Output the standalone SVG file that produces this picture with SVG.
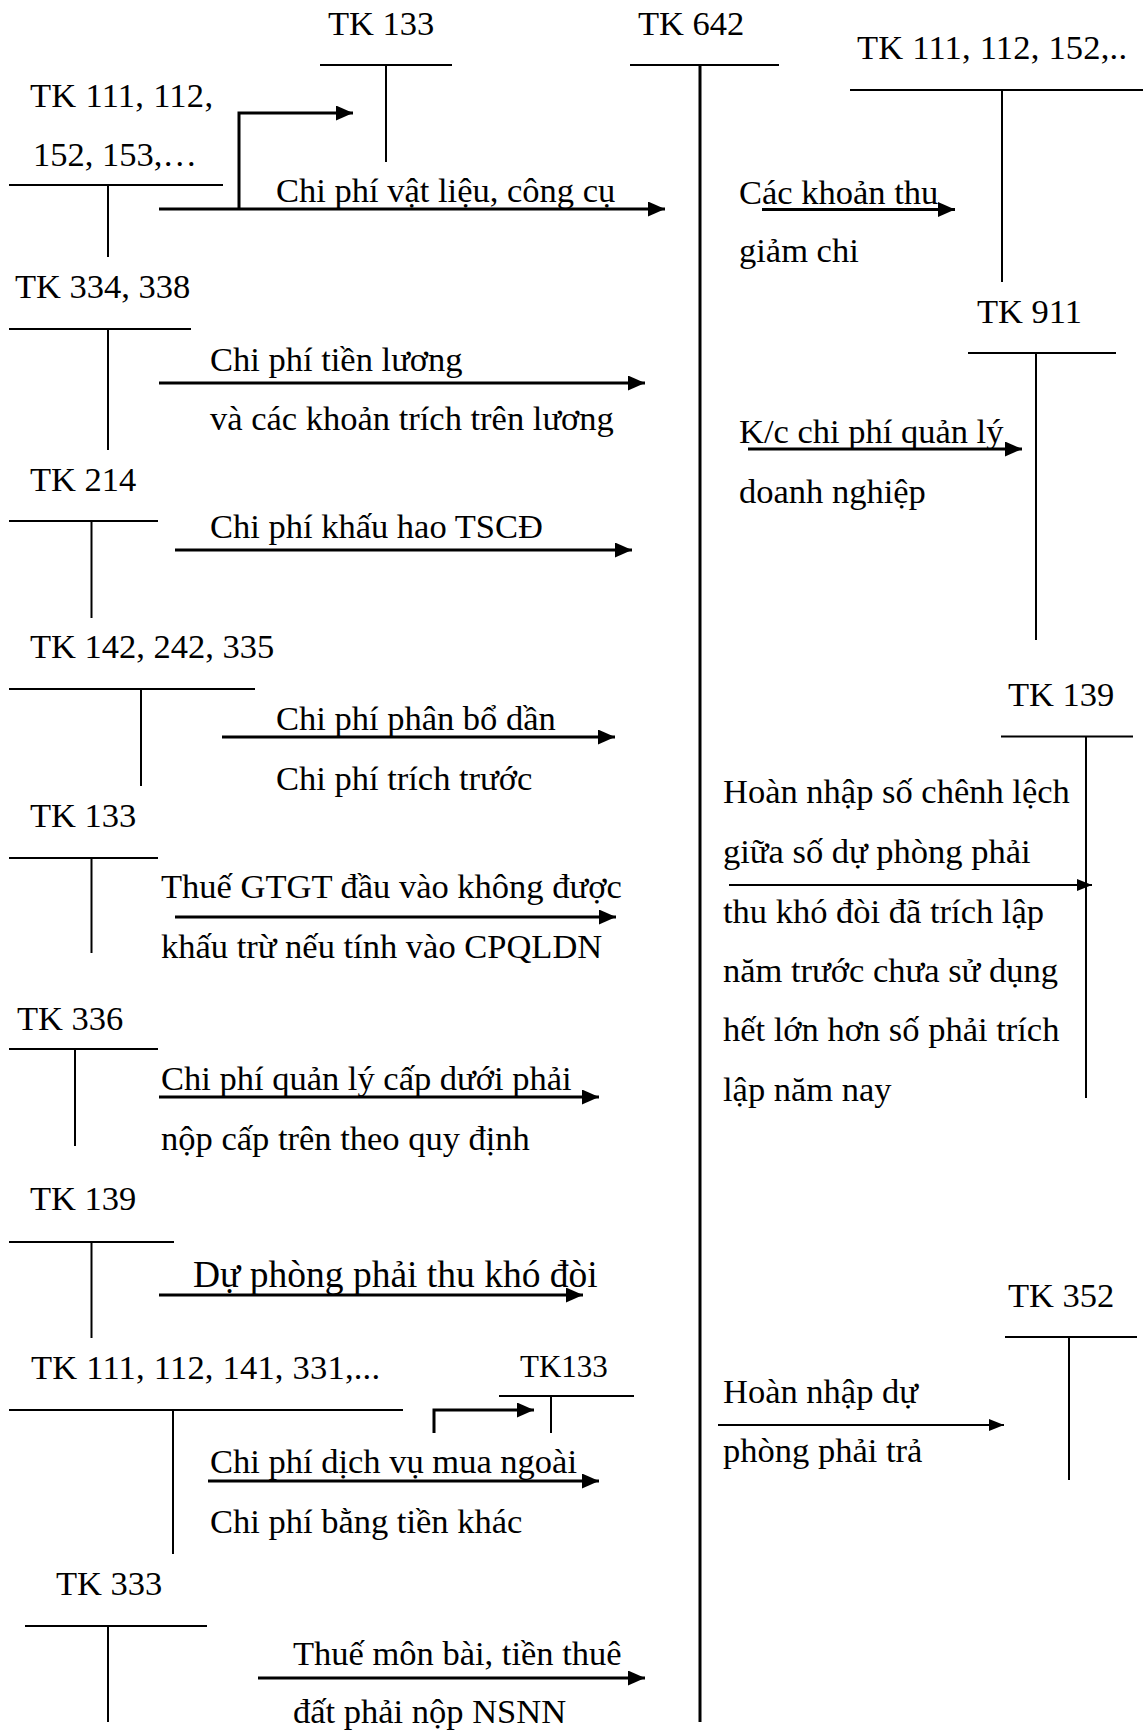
<svg xmlns="http://www.w3.org/2000/svg" width="1144" height="1731" viewBox="0 0 1144 1731">
  <style>
    text { font-family: "Liberation Serif", "Times New Roman", serif; font-size: 34.5px; fill: #000; }
    .small { font-size: 31px; }
    .big { font-size: 37.5px; }
    .t { stroke: #000; stroke-width: 2; fill: none; }
    .main { stroke: #000; stroke-width: 3; fill: none; }
    .arr { stroke: #000; stroke-width: 3; fill: none; marker-end: url(#ah); }
    .arr2 { stroke: #000; stroke-width: 2; fill: none; marker-end: url(#ah2); }
  </style>
  <defs>
    <marker id="ah" markerUnits="userSpaceOnUse" markerWidth="17" markerHeight="15" refX="17" refY="7.5" orient="auto">
      <path d="M0,0 L17,7.5 L0,15 Z" fill="#000"/>
    </marker>
    <marker id="ah2" markerUnits="userSpaceOnUse" markerWidth="15" markerHeight="12" refX="15" refY="6" orient="auto">
      <path d="M0,0 L15,6 L0,12 Z" fill="#000"/>
    </marker>
  </defs>
  <rect width="1144" height="1731" fill="#fff"/>

  <!-- T-accounts -->
  <g id="tk133-top">
    <text x="328" y="35">TK 133</text>
    <line class="t" x1="320" y1="65" x2="452" y2="65"/>
    <line class="t" x1="386" y1="65" x2="386" y2="162"/>
  </g>
  <g id="tk642">
    <text x="638" y="35">TK 642</text>
    <line class="t" x1="630" y1="65" x2="779" y2="65"/>
    <line class="main" x1="700" y1="65" x2="700" y2="1722"/>
  </g>
  <g id="tk111-152">
    <text x="30" y="107" textLength="183" lengthAdjust="spacing">TK 111, 112,</text>
    <text x="33" y="166">152, 153,…</text>
    <line class="t" x1="9" y1="185" x2="223" y2="185"/>
    <line class="t" x1="108" y1="185" x2="108" y2="257"/>
  </g>
  <g id="tk111-right">
    <text x="857" y="59" textLength="270" lengthAdjust="spacing">TK 111, 112, 152,..</text>
    <line class="t" x1="850" y1="90" x2="1143" y2="90"/>
    <line class="t" x1="1002" y1="90" x2="1002" y2="282"/>
  </g>
  <g id="tk911">
    <text x="977" y="323">TK 911</text>
    <line class="t" x1="968" y1="353" x2="1116" y2="353"/>
    <line class="t" x1="1036" y1="353" x2="1036" y2="640"/>
  </g>
  <g id="tk334">
    <text x="15" y="298">TK 334, 338</text>
    <line class="t" x1="9" y1="329" x2="191" y2="329"/>
    <line class="t" x1="108" y1="329" x2="108" y2="450"/>
  </g>
  <g id="tk214">
    <text x="30" y="491">TK 214</text>
    <line class="t" x1="9" y1="521" x2="158" y2="521"/>
    <line class="t" x1="91.5" y1="521" x2="91.5" y2="618"/>
  </g>
  <g id="tk142">
    <text x="30" y="658">TK 142, 242, 335</text>
    <line class="t" x1="9" y1="689" x2="255" y2="689"/>
    <line class="t" x1="141" y1="689" x2="141" y2="786"/>
  </g>
  <g id="tk133-left">
    <text x="30" y="827">TK 133</text>
    <line class="t" x1="9" y1="858" x2="158" y2="858"/>
    <line class="t" x1="91.5" y1="858" x2="91.5" y2="953"/>
  </g>
  <g id="tk336">
    <text x="17" y="1030">TK 336</text>
    <line class="t" x1="9" y1="1049" x2="158" y2="1049"/>
    <line class="t" x1="75" y1="1049" x2="75" y2="1146"/>
  </g>
  <g id="tk139-left">
    <text x="30" y="1210">TK 139</text>
    <line class="t" x1="9" y1="1242" x2="174" y2="1242"/>
    <line class="t" x1="91.5" y1="1242" x2="91.5" y2="1338"/>
  </g>
  <g id="tk111-331">
    <text x="31" y="1379" textLength="349" lengthAdjust="spacing">TK 111, 112, 141, 331,...</text>
    <line class="t" x1="9" y1="1410" x2="403" y2="1410"/>
    <line class="t" x1="173" y1="1410" x2="173" y2="1554"/>
  </g>
  <g id="tk133-small">
    <text class="small" x="520" y="1377">TK133</text>
    <line class="t" x1="499" y1="1396" x2="634" y2="1396"/>
    <line class="t" x1="551" y1="1396" x2="551" y2="1433"/>
  </g>
  <g id="tk333">
    <text x="56" y="1595">TK 333</text>
    <line class="t" x1="25" y1="1626" x2="207" y2="1626"/>
    <line class="t" x1="108" y1="1626" x2="108" y2="1722"/>
  </g>
  <g id="tk139-right">
    <text x="1008" y="706">TK 139</text>
    <line class="t" x1="1001" y1="736.5" x2="1133" y2="736.5"/>
    <line class="t" x1="1086" y1="736.5" x2="1086" y2="1098"/>
  </g>
  <g id="tk352">
    <text x="1008" y="1307">TK 352</text>
    <line class="t" x1="1005" y1="1337" x2="1137" y2="1337"/>
    <line class="t" x1="1069" y1="1337" x2="1069" y2="1480"/>
  </g>

  <!-- entry labels -->
  <g id="labels">
    <text x="276" y="202">Chi phí vật liệu, công cụ</text>
    <text x="210" y="371">Chi phí tiền lương</text>
    <text x="210" y="430">và các khoản trích trên lương</text>
    <text x="210" y="538">Chi phí khấu hao TSCĐ</text>
    <text x="276" y="730">Chi phí phân bổ dần</text>
    <text x="276" y="790">Chi phí trích trước</text>
    <text x="161" y="898">Thuế GTGT đầu vào không được</text>
    <text x="161" y="958">khấu trừ nếu tính vào CPQLDN</text>
    <text x="161" y="1090">Chi phí quản lý cấp dưới phải</text>
    <text x="161" y="1150">nộp cấp trên theo quy định</text>
    <text class="big" x="193" y="1287">Dự phòng phải thu khó đòi</text>
    <text x="210" y="1473">Chi phí dịch vụ mua ngoài</text>
    <text x="210" y="1533">Chi phí bằng tiền khác</text>
    <text x="293" y="1665">Thuế môn bài, tiền thuê</text>
    <text x="293" y="1723">đất phải nộp NSNN</text>
    <text x="739" y="204">Các khoản thu</text>
    <text x="739" y="262">giảm chi</text>
    <text x="739" y="443">K/c chi phí quản lý</text>
    <text x="739" y="503">doanh nghiệp</text>
    <text x="723" y="803">Hoàn nhập số chênh lệch</text>
    <text x="723" y="863">giữa số dự phòng phải</text>
    <text x="723" y="923">thu khó đòi đã trích lập</text>
    <text x="723" y="982">năm trước chưa sử dụng</text>
    <text x="723" y="1041">hết lớn hơn số phải trích</text>
    <text x="723" y="1101">lập năm nay</text>
    <text x="723" y="1403">Hoàn nhập dự</text>
    <text x="723" y="1462">phòng phải trả</text>
  </g>

  <!-- posting arrows -->
  <g id="connectors">
    <line class="arr" x1="159" y1="209" x2="665" y2="209"/>
    <polyline class="arr" points="239,209 239,113 353,113"/>
    <line class="arr" x1="159" y1="383" x2="645" y2="383"/>
    <line class="arr" x1="175" y1="550" x2="632" y2="550"/>
    <line class="arr" x1="222" y1="737" x2="615" y2="737"/>
    <line class="arr" x1="175" y1="917" x2="616" y2="917"/>
    <line class="arr" x1="159" y1="1097" x2="599" y2="1097"/>
    <line class="arr" x1="159" y1="1295" x2="583" y2="1295"/>
    <line class="arr" x1="208" y1="1481" x2="599" y2="1481"/>
    <polyline class="arr" points="434,1433 434,1410 534,1410"/>
    <line class="arr" x1="258" y1="1678" x2="645" y2="1678"/>
    <line class="arr" x1="762" y1="209.5" x2="955" y2="209.5"/>
    <line class="arr" x1="748" y1="449" x2="1022" y2="449"/>
    <line class="arr2" x1="729" y1="885" x2="1092" y2="885"/>
    <line class="arr2" x1="718" y1="1425" x2="1004" y2="1425"/>
  </g>
</svg>
